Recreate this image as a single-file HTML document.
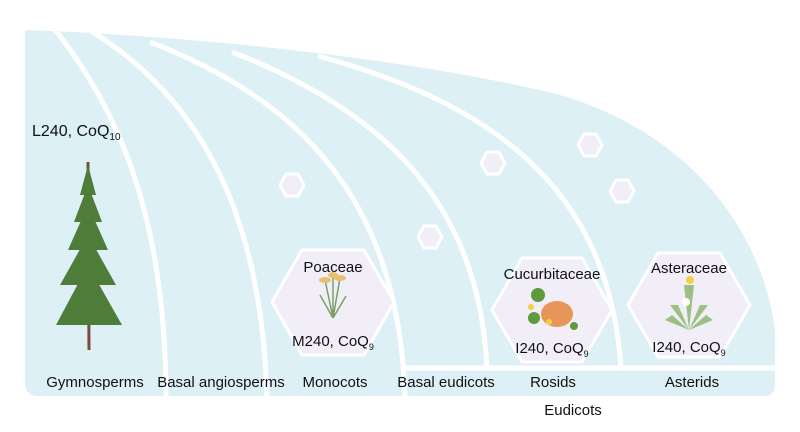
<!DOCTYPE html>
<html><head><style>
html,body{margin:0;padding:0;background:#fff;}
svg{display:block;font-family:"Liberation Sans",Arial,sans-serif;}
</style></head><body>
<svg width="800" height="432" viewBox="0 0 800 432" xmlns="http://www.w3.org/2000/svg">
<defs>
<clipPath id="c"><path d="M25,30 C200,36 420,60 560,95 C680,130 760,220 775,330 L775,385 Q775,396 762,396 L38,396 Q25,396 25,383 Z"/></clipPath>
</defs>
<path d="M25,30 C200,36 420,60 560,95 C680,130 760,220 775,330 L775,385 Q775,396 762,396 L38,396 Q25,396 25,383 Z" fill="#dcf0f6"/>
<g clip-path="url(#c)" fill="none" stroke="#fff" stroke-width="5">
<path d="M52,26 C120,110 166,220 166,400"/>
<path d="M86,28 C190,90 262,200 267,400"/>
<path d="M150,42 C300,100 400,200 405,400"/>
<path d="M232,52 C380,110 480,200 487,370"/>
<path d="M318,56 C480,100 610,180 621,370"/>
<path d="M404,368 L780,368"/>
</g>
<g fill="#f2eef8" stroke="#fff" stroke-width="3">
<polygon points="272,302 302,250 364,250 394,302 364,355 302,355"/>
<polygon points="492,310 522,258 582,258 612,310 582,362 522,362"/>
<polygon points="628,305 658,253 720,253 750,305 720,357 658,357"/>
<polygon points="280,185 286,174 298,174 304,185 298,196 286,196"/>
<polygon points="481,163 487,152 499,152 505,163 499,174 487,174"/>
<polygon points="578,145 584,134 596,134 602,145 596,156 584,156"/>
<polygon points="610,191 616,180 628,180 634,191 628,202 616,202"/>
<polygon points="418,237 424,226 436,226 442,237 436,248 424,248"/>
</g>
<g>
<line x1="88" y1="162" x2="89" y2="350" stroke="#7a4a3a" stroke-width="3"/>
<g fill="#4e7d3a">
<polygon points="88,165 80,195 96,195"/>
<polygon points="88,185 74,222 102,222"/>
<polygon points="88,205 68,250 108,250"/>
<polygon points="88,235 60,285 116,285"/>
<polygon points="88,265 56,325 122,325"/>
</g>
</g>
<g stroke="#7aa066" stroke-width="1.5" fill="none">
<path d="M333,318 L325,280 M333,318 L340,278 M333,318 L333,275 M333,318 L320,295 M333,318 L346,296"/>
</g>
<g fill="#e8c070"><ellipse cx="325" cy="280" rx="6" ry="3"/><ellipse cx="340" cy="278" rx="6" ry="3"/><ellipse cx="333" cy="275" rx="5" ry="3"/></g>
<ellipse cx="557" cy="314" rx="16" ry="13" fill="#e8955a"/>
<g fill="#5f9a3c"><circle cx="538" cy="295" r="7"/><circle cx="534" cy="318" r="6"/><circle cx="574" cy="326" r="4"/></g>
<g fill="#f3d040"><circle cx="531" cy="307" r="3"/><circle cx="549" cy="322" r="3"/></g>
<g fill="#9cc084"><polygon points="689,330 670,305 678,305"/><polygon points="689,330 708,305 700,305"/><polygon points="689,330 684,285 694,285"/><polygon points="689,330 665,320 672,315"/><polygon points="689,330 713,320 706,315"/></g>
<circle cx="690" cy="280" r="4" fill="#f3d040"/>
<circle cx="686" cy="302" r="4" fill="#fff"/>
<g font-size="15" fill="#111" text-anchor="middle">
<text x="32" y="136" text-anchor="start" font-size="16">L240, CoQ<tspan font-size="10" dy="4">10</tspan></text>
<text x="333" y="272">Poaceae</text>
<text x="333" y="346">M240, CoQ<tspan font-size="9" dy="4">9</tspan></text>
<text x="552" y="279">Cucurbitaceae</text>
<text x="552" y="353">I240, CoQ<tspan font-size="9" dy="4">9</tspan></text>
<text x="689" y="273">Asteraceae</text>
<text x="689" y="352">I240, CoQ<tspan font-size="9" dy="4">9</tspan></text>
<text x="95" y="387">Gymnosperms</text>
<text x="221" y="387">Basal angiosperms</text>
<text x="335" y="387">Monocots</text>
<text x="446" y="387">Basal eudicots</text>
<text x="553" y="387">Rosids</text>
<text x="692" y="387">Asterids</text>
<text x="573" y="415">Eudicots</text>
</g>
</svg>
</body></html>
